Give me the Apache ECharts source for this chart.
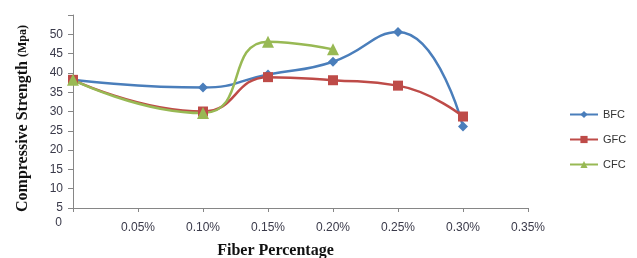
<!DOCTYPE html>
<html>
<head>
<meta charset="utf-8">
<script src="https://cdn.jsdelivr.net/npm/echarts@6/dist/echarts.min.js"></script>
<style>
  html, body { margin: 0; padding: 0; background: #fff; }
  #chart { width: 637px; height: 258px; }
</style>
</head>
<body>
<div id="chart"></div>
<script>
// fiber percentage (x) and strengths (Mpa)
const fiber = [0, 0.10, 0.15, 0.20, 0.25, 0.30];
const bfc = [38.2, 36.2, 39.6, 42.9, 50.6, 26.1];
const gfc = [38.2, 30.0, 38.9, 38.1, 36.7, 28.7];
const cfc = [38.2, 29.6, 48.1, 46.1];

const pairs = (xs, ys) => ys.map((v, i) => [xs[i], v]);

const chart = echarts.init(document.getElementById('chart'));
chart.setOption({
    animation: false,
    grid: { left: 73, right: 109, top: 15, bottom: 50, outerBoundsMode: 'none' },
    legend: {
        orient: 'vertical',
        left: 564,
        top: 104,
        itemWidth: 28,
        itemHeight: 9,
        itemGap: 14,
        textStyle: { fontFamily: 'Liberation Sans', fontSize: 11, color: '#333' },
        data: ['BFC', 'GFC', 'CFC']
    },
    xAxis: {
        type: 'value',
        min: 0,
        max: 0.35,
        interval: 0.05,
        name: 'Fiber Percentage',
        nameLocation: 'middle',
        nameGap: 35,
        nameTextStyle: {
            fontFamily: 'Liberation Serif', fontWeight: 'bold', fontSize: 16,
            color: '#111', padding: [0, 50, 0, 0]
        },
        axisLine: { lineStyle: { color: '#868686' } },
        axisTick: { show: true, length: 4, lineStyle: { color: '#868686' } },
        splitLine: { show: false },
        axisLabel: {
            margin: 14,
            fontFamily: 'Liberation Sans', fontSize: 12, color: '#3a3a4a',
            formatter: v => v === 0 ? '' : v.toFixed(2) + '%'
        }
    },
    yAxis: [{
        type: 'value',
        min: 5,
        max: 55,
        interval: 5,
        name: '{a|Compressive Strength }{b|(Mpa)}',
        nameLocation: 'middle',
        nameGap: 42,
        nameTextStyle: {
            padding: [0, 14, 0, 0],
            rich: {
                a: { fontFamily: 'Liberation Serif', fontWeight: 'bold', fontSize: 16, color: '#111' },
                b: { fontFamily: 'Liberation Serif', fontWeight: 'bold', fontSize: 12, color: '#111' }
            }
        },
        axisLine: { show: true, lineStyle: { color: '#868686' } },
        axisTick: { show: true, length: 5, lineStyle: { color: '#868686' } },
        splitLine: { show: false },
        axisLabel: {
            margin: 10,
            fontFamily: 'Liberation Sans', fontSize: 12, color: '#3a3a4a',
            formatter: v => v === 55 ? '' : String(v)
        }
    }, {
        // extra "0" label under the axis, as in the original
        type: 'value',
        position: 'left',
        min: 5,
        max: 55,
        name: '0',
        nameLocation: 'start',
        nameGap: 9,
        nameTextStyle: {
            fontFamily: 'Liberation Sans', fontSize: 12, color: '#3a3a4a',
            align: 'right', padding: [0, 11, 0, 0]
        },
        axisLine: { show: false },
        axisTick: { show: false },
        axisLabel: { show: false },
        splitLine: { show: false }
    }],
    series: [
        {
            name: 'BFC',
            type: 'line',
            smooth: 0.5,
            symbol: 'diamond',
            symbolSize: 10,
            data: pairs(fiber, bfc),
            itemStyle: { color: '#4A7EBB' },
            lineStyle: { width: 2.5, color: '#4A7EBB' }
        },
        {
            name: 'GFC',
            type: 'line',
            smooth: 0.5,
            symbol: 'rect',
            symbolSize: 10,
            data: pairs(fiber, gfc),
            itemStyle: { color: '#BE4B48' },
            lineStyle: { width: 2.5, color: '#BE4B48' }
        },
        {
            name: 'CFC',
            type: 'line',
            smooth: 0.55,
            symbol: 'triangle',
            symbolSize: 12,
            data: pairs(fiber, cfc),
            itemStyle: { color: '#98B954' },
            lineStyle: { width: 2.5, color: '#98B954' }
        }
    ]
});
</script>
</body>
</html>
